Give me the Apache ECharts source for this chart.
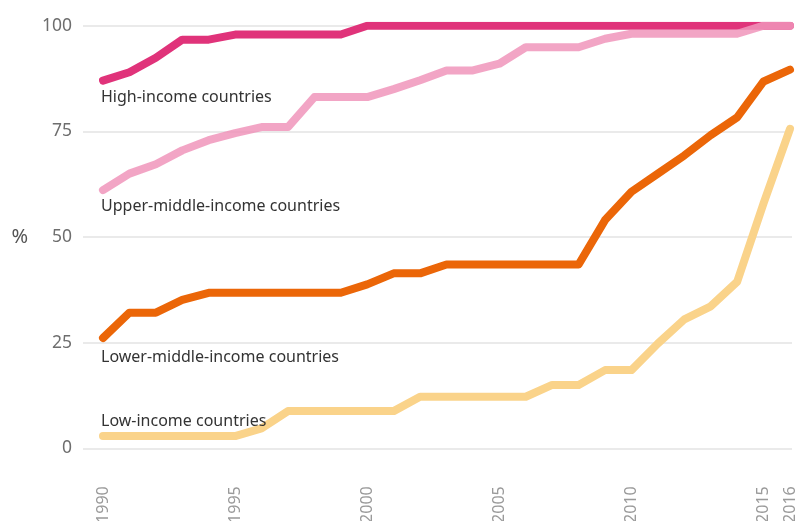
<!DOCTYPE html>
<html><head><meta charset="utf-8">
<script src="https://cdn.jsdelivr.net/npm/echarts@6/dist/echarts.min.js"></script>
<style>html,body{margin:0;padding:0;background:#fff}#c{width:798px;height:521px}</style>
</head><body><div id="c"></div>
<script>
var years = [1990,1991,1992,1993,1994,1995,1996,1997,1998,1999,2000,2001,2002,2003,2004,2005,2006,2007,2008,2009,2010,2011,2012,2013,2014,2015,2016];
var highIncome = [87,89,92.4,96.7,96.7,97.9,97.9,97.9,97.9,97.9,100,100,100,100,100,100,100,100,100,100,100,100,100,100,100,100,100];
var upperMiddle = [61.1,65,67.2,70.5,72.9,74.6,76,76,83.1,83.1,83.1,85,87.1,89.4,89.4,91,94.9,94.9,94.9,96.9,98.1,98.1,98.1,98.1,98.1,100,100];
var lowerMiddle = [26.1,32.1,32.1,35.1,36.8,36.8,36.8,36.8,36.8,36.8,38.8,41.4,41.4,43.5,43.5,43.5,43.5,43.5,43.5,54,60.7,65,69.3,74.1,78.3,86.8,89.6];
var lowIncome = [2.9,2.9,2.9,2.9,2.9,2.9,4.7,8.8,8.8,8.8,8.8,8.8,12.2,12.2,12.2,12.2,12.2,15,15,18.5,18.5,24.8,30.5,33.6,39.4,58,75.6];
var seriesNames = ['High-income countries','Upper-middle-income countries','Lower-middle-income countries','Low-income countries'];
var xTickLabels = [1990,1995,2000,2005,2010,2015,2016];
var yTicks = [0,25,50,75,100];

var colors = ['#E0337A','#F095BB','#EB6608','#FAD38A'];
var allData = [highIncome, upperMiddle, lowerMiddle, lowIncome];
function pairs(arr){ return arr.map(function(v,i){ return [years[i], v]; }); }

var chart = echarts.init(document.getElementById('c'), null, {renderer:'canvas'});
var font = '"Noto Sans", sans-serif';
var option = {
  animation:false,
  grid:{left:83,right:6,top:25.7,bottom:72.7,containLabel:false,outerBoundsMode:'none'},
  xAxis:{type:'value',min:1990-20/26.42,max:2016+2/26.42,
    axisLine:{show:false},axisTick:{show:false},splitLine:{show:false},
    axisLabel:{customValues:xTickLabels,rotate:90,margin:38,color:'#9a9a9a',fontSize:16,fontFamily:font,formatter:function(v){return String(v);}}},
  yAxis:{type:'value',min:0,max:100,interval:25,
    name:'%',nameLocation:'middle',nameRotate:0,nameGap:55,
    nameTextStyle:{color:'#555',fontSize:20,fontFamily:font},
    axisLine:{show:false},axisTick:{show:false},
    splitLine:{lineStyle:{color:'#e3e3e3',width:1.5}},
    axisLabel:{margin:11,color:'#6e6e6e',fontSize:17.5,fontFamily:font}},
  series: allData.map(function(d,i){
    return {type:'line',name:seriesNames[i],data:pairs(d),showSymbol:false,symbol:'none',
      z: i===1?3:2,
      lineStyle:{color:colors[i],width:8,cap:'round',join:'round',opacity: i===1?0.85:1}};
  })
};
chart.setOption(option);
var offsets = [17, 16, 19, -15];
var graphics = allData.map(function(d,i){
  var p = chart.convertToPixel({gridIndex:0},[years[0], d[0]]);
  return {type:'text',x:p[0]-2,y:p[1]+offsets[i],z:100,
    style:{text:seriesNames[i],fill:'#333',font:'16px '+font,textVerticalAlign:'middle',textAlign:'left'}};
});
chart.setOption({graphic:graphics});
</script></body></html>
